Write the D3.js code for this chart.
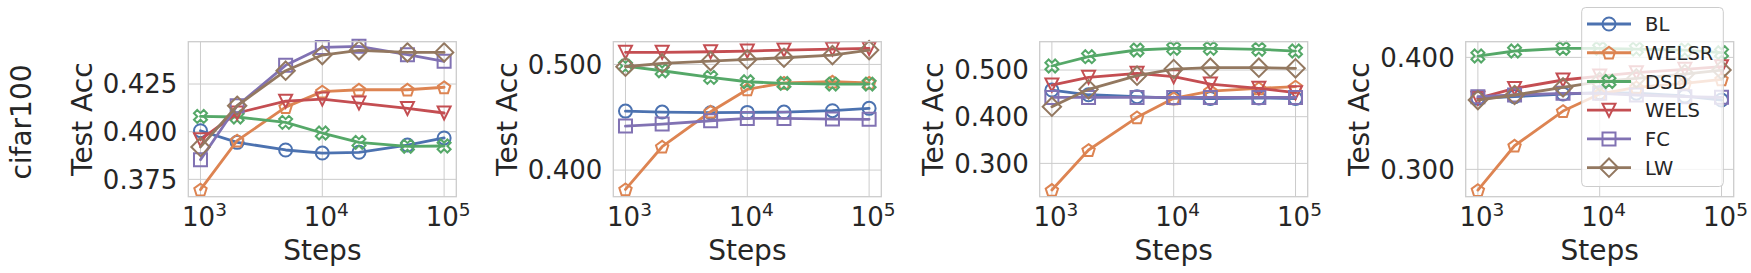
<!DOCTYPE html>
<html lang="en">
<head>
<meta charset="UTF-8">
<title>cifar100 test acc</title>
<script src="https://cdn.jsdelivr.net/npm/d3@7"></script>
<style>
  body { margin: 0; background: white; }
  svg text { font-family: "DejaVu Sans", sans-serif; fill: #262626; }
</style>
</head>
<body>
<div id="chart"></div>
<script>
// ---- data ----
const steps = [1000, 2000, 5000, 10000, 20000, 50000, 100000];
const methods = ["BL", "WELSR", "DSD", "WELS", "FC", "LW"];
const rowLabel = "cifar100";

const accPanel1 = {
  BL:    [0.4005, 0.3944, 0.3904, 0.3888, 0.3892, 0.3930, 0.3967],
  WELSR: [0.3696, 0.3953, 0.4129, 0.4210, 0.4220, 0.4220, 0.4233],
  DSD:   [0.4080, 0.4077, 0.4049, 0.3993, 0.3944, 0.3923, 0.3925],
  WELS:  [0.3958, 0.4098, 0.4160, 0.4171, 0.4150, 0.4122, 0.4098],
  FC:    [0.3853, 0.4136, 0.4348, 0.4442, 0.4448, 0.4404, 0.4369],
  LW:    [0.3920, 0.4136, 0.4320, 0.4402, 0.4427, 0.4416, 0.4416]
};
const accPanel2 = {
  BL:    [0.4558, 0.4549, 0.4543, 0.4546, 0.4549, 0.4562, 0.4584],
  WELSR: [0.3817, 0.4221, 0.4552, 0.4763, 0.4826, 0.4836, 0.4826],
  DSD:   [0.4984, 0.4940, 0.4877, 0.4836, 0.4820, 0.4814, 0.4814],
  WELS:  [0.5114, 0.5114, 0.5120, 0.5126, 0.5136, 0.5145, 0.5151],
  FC:    [0.4416, 0.4435, 0.4467, 0.4489, 0.4489, 0.4483, 0.4480],
  LW:    [0.4978, 0.5009, 0.5032, 0.5047, 0.5063, 0.5088, 0.5136]
};
const accPanel3 = {
  BL:    [0.4571, 0.4470, 0.4430, 0.4400, 0.4390, 0.4400, 0.4390],
  WELSR: [0.2430, 0.3286, 0.3986, 0.4393, 0.4550, 0.4607, 0.4643],
  DSD:   [0.5086, 0.5286, 0.5429, 0.5464, 0.5464, 0.5443, 0.5407],
  WELS:  [0.4679, 0.4843, 0.4929, 0.4857, 0.4700, 0.4607, 0.4514],
  FC:    [0.4414, 0.4414, 0.4414, 0.4414, 0.4414, 0.4414, 0.4414],
  LW:    [0.4214, 0.4586, 0.4879, 0.5021, 0.5050, 0.5050, 0.5036]
};
const accPanel4 = {
  BL:    [0.3634, 0.3649, 0.3673, 0.3685, 0.3680, 0.3655, 0.3619],
  WELSR: [0.2815, 0.3211, 0.3521, 0.3673, 0.3732, 0.3768, 0.3804],
  DSD:   [0.4012, 0.4057, 0.4080, 0.4080, 0.4074, 0.4065, 0.4042],
  WELS:  [0.3634, 0.3723, 0.3798, 0.3833, 0.3863, 0.3893, 0.3917],
  FC:    [0.3649, 0.3664, 0.3679, 0.3679, 0.3664, 0.3649, 0.3643],
  LW:    [0.3619, 0.3664, 0.3732, 0.3783, 0.3813, 0.3851, 0.3887]
};
const panelData = [accPanel1, accPanel2, accPanel3, accPanel4];
const yTicks = [[0.375, 0.400, 0.425], [0.400, 0.500], [0.300, 0.400, 0.500], [0.300, 0.400]];
const yDomains = [[0.3659, 0.4472], [0.3748, 0.5215], [0.2286, 0.5607], [0.2756, 0.4140]];
const xTicks = [1e3, 1e4, 1e5];

// ---- style ----
const colors = {BL: "#4C72B0", WELSR: "#DD8452", DSD: "#55A868", WELS: "#C44E52", FC: "#8172B3", LW: "#937860"};
const W = 1751, H = 273;
const panelLeft = [188.3, 613.3, 1039.7, 1465.7];
const panelW = 268;
const plotTop = 41.7, plotBottom = 196.7;
const ms = 13;

// marker path builders, centred at 0,0
function markerPath(name, s) {
  const r = s / 2;
  const poly = pts => "M" + pts.map(p => p[0].toFixed(2) + "," + p[1].toFixed(2)).join("L") + "Z";
  if (name === "BL") {
    return `M${r},0A${r},${r} 0 1,1 ${-r},0A${r},${r} 0 1,1 ${r},0Z`;
  }
  if (name === "WELSR") {
    const pts = d3.range(5).map(i => {
      const a = -Math.PI / 2 + i * 2 * Math.PI / 5;
      return [r * Math.cos(a), r * Math.sin(a) + 0.6];
    });
    return poly(pts);
  }
  if (name === "DSD") {
    const base = [[-1, -2], [0, -1], [1, -2], [2, -1], [1, 0], [2, 1], [1, 2], [0, 1], [-1, 2], [-2, 1], [-1, 0], [-2, -1]];
    return poly(base.map(p => [p[0] * r / 2, p[1] * r / 2]));
  }
  if (name === "WELS") {
    return poly([[0, r], [-r, -r], [r, -r]]);
  }
  if (name === "FC") {
    return poly([[-r, -r], [r, -r], [r, r], [-r, r]]);
  }
  // LW diamond
  const d = r * 1.414;
  return poly([[0, -d], [d, 0], [0, d], [-d, 0]]);
}

const svg = d3.select("#chart").append("svg")
  .attr("width", W).attr("height", H);

svg.append("text")
  .attr("transform", "translate(31,122) rotate(-90)")
  .attr("text-anchor", "middle")
  .attr("font-size", 28)
  .text(rowLabel);

const labelX = [92, 517, 943, 1369];

panelData.forEach((acc, pi) => {
  const x = d3.scaleLog().domain([10 ** 2.9, 10 ** 5.1]).range([panelLeft[pi], panelLeft[pi] + panelW]);
  const y = d3.scaleLinear().domain(yDomains[pi]).range([plotBottom, plotTop]);
  const g = svg.append("g");

  // grid
  g.selectAll(".gx").data(xTicks).enter().append("line")
    .attr("x1", d => x(d)).attr("x2", d => x(d))
    .attr("y1", plotTop).attr("y2", plotBottom)
    .attr("stroke", "#cccccc").attr("stroke-width", 1);
  g.selectAll(".gy").data(yTicks[pi]).enter().append("line")
    .attr("x1", panelLeft[pi]).attr("x2", panelLeft[pi] + panelW)
    .attr("y1", d => y(d)).attr("y2", d => y(d))
    .attr("stroke", "#cccccc").attr("stroke-width", 1);

  // x tick labels 10^n
  const xt = g.selectAll(".xt").data(xTicks).enter().append("text")
    .attr("x", d => x(d) + 4).attr("y", 226)
    .attr("text-anchor", "middle")
    .attr("font-size", 26);
  xt.append("tspan").text("10");
  xt.append("tspan").attr("dy", -10).attr("font-size", 18.5).text(d => Math.round(Math.log10(d)));

  // y tick labels
  g.selectAll(".yt").data(yTicks[pi]).enter().append("text")
    .attr("x", panelLeft[pi] - 11).attr("y", d => y(d))
    .attr("dy", "0.36em")
    .attr("text-anchor", "end")
    .attr("font-size", 26)
    .text(d => d3.format(".3f")(d));

  // axis labels
  g.append("text")
    .attr("x", panelLeft[pi] + panelW / 2).attr("y", 260)
    .attr("text-anchor", "middle").attr("font-size", 28)
    .text("Steps");
  g.append("text")
    .attr("transform", `translate(${labelX[pi]},${(plotTop + plotBottom) / 2}) rotate(-90)`)
    .attr("text-anchor", "middle").attr("font-size", 28)
    .text("Test Acc");

  const line = d3.line().x((d, i) => x(steps[i])).y(d => y(d));

  const plot = g.append("g");
  methods.forEach(m => {
    plot.append("path")
      .datum(acc[m])
      .attr("d", line)
      .attr("fill", "none")
      .attr("stroke", colors[m])
      .attr("stroke-width", 2.8)
      .attr("stroke-linejoin", "round")
      .attr("stroke-linecap", "round");
    plot.selectAll(".mk-" + m).data(acc[m]).enter().append("path")
      .attr("transform", (d, i) => `translate(${x(steps[i])},${y(d)})`)
      .attr("d", markerPath(m, ms))
      .attr("fill", "none")
      .attr("stroke", colors[m])
      .attr("stroke-width", 2);
  });

  // axes frame
  g.append("rect")
    .attr("x", panelLeft[pi]).attr("y", plotTop)
    .attr("width", panelW).attr("height", plotBottom - plotTop)
    .attr("fill", "none").attr("stroke", "#cccccc").attr("stroke-width", 1.3);
});

// legend
const lg = svg.append("g");
lg.append("rect")
  .attr("x", 1581.7).attr("y", 7.5).attr("width", 141.6).attr("height", 179)
  .attr("rx", 4)
  .attr("fill", "white").attr("fill-opacity", 0.8)
  .attr("stroke", "#cccccc").attr("stroke-width", 1);
const legendY = d3.scalePoint().domain(methods).range([24, 167.7]);
methods.forEach(m => {
  const yy = legendY(m);
  lg.append("line")
    .attr("x1", 1587).attr("x2", 1631).attr("y1", yy).attr("y2", yy)
    .attr("stroke", colors[m]).attr("stroke-width", 2.8);
  lg.append("path")
    .attr("transform", `translate(1609,${yy})`)
    .attr("d", markerPath(m, ms))
    .attr("fill", "none").attr("stroke", colors[m]).attr("stroke-width", 2);
  lg.append("text")
    .attr("x", 1645).attr("y", yy).attr("dy", "0.36em")
    .attr("font-size", 19.5)
    .text(m);
});
</script>
</body>
</html>
